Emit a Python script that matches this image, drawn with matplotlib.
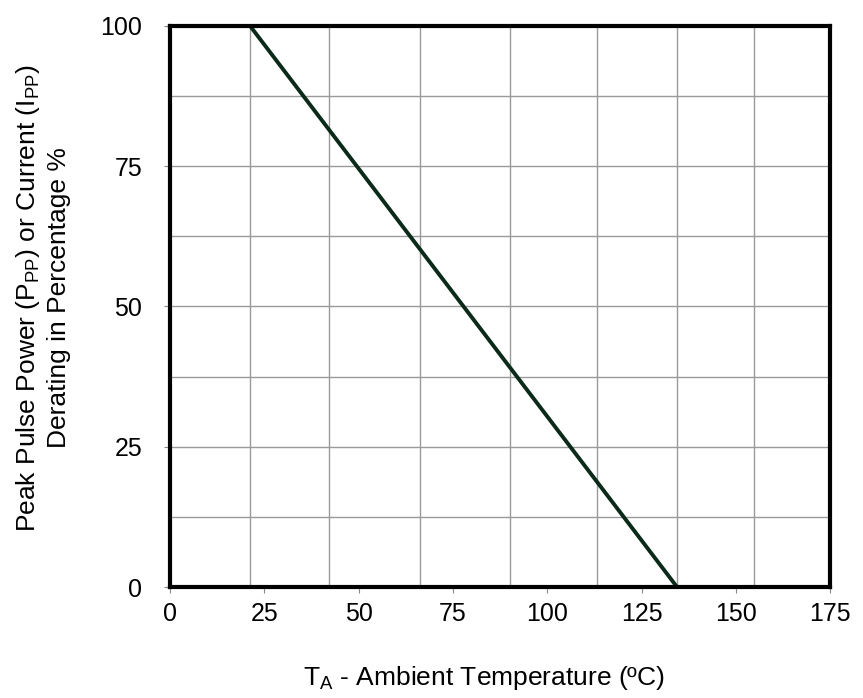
import matplotlib
matplotlib.use("Agg")
import matplotlib.pyplot as plt

plt.rcParams['font.family'] = ['Liberation Sans', 'DejaVu Sans']
plt.rcParams['mathtext.fontset'] = 'custom'
plt.rcParams['mathtext.rm'] = 'Liberation Sans'
plt.rcParams['mathtext.it'] = 'Liberation Sans'

# derating line: % vs ambient temperature
temp = [21.2, 134.4]
derating = [100, 0]

x_ticks = [0, 25, 50, 75, 100, 125, 150, 175]
y_ticks = [0, 25, 50, 75, 100]
# grid positions
x_grid = [21.2, 42.2, 66.3, 90.2, 113.2, 134.4, 154.8]
y_grid = [12.5, 25, 37.5, 50, 62.5, 75, 87.5]

fig = plt.figure(figsize=(8.63, 6.98), dpi=100)
ax = fig.add_axes([0.197, 0.159, 0.765, 0.804])

for g in x_grid:
    ax.axvline(g, color='#9a9a9a', lw=1.0, zorder=1)
for g in y_grid:
    ax.axhline(g, color='#9a9a9a', lw=1.0, zorder=1)

ax.plot(temp, derating, color='#0b2a1a', lw=2.8, zorder=3, solid_capstyle='butt')

ax.set_xlim(0, 175)
ax.set_ylim(0, 100)
ax.set_xticks(x_ticks)
ax.set_yticks(y_ticks)
ax.tick_params(axis='both', labelsize=18, length=4, width=0.8, color='#888888', pad=7)
ax.tick_params(axis='y', pad=16)

for s in ax.spines.values():
    s.set_linewidth(3)
    s.set_color('black')
    s.set_zorder(4)

ax.set_xlabel(r'T$_\mathregular{A}$ - Ambient Temperature (ºC)', fontsize=19)
ax.xaxis.set_label_coords(0.475, -0.163, transform=ax.transAxes)
ax.xaxis.label.set_va('center')
ax.set_ylabel('Peak Pulse Power (P$_\\mathregular{PP}$) or Current (I$_\\mathregular{PP}$)\nDerating in Percentage %',
              fontsize=19, linespacing=1.3)
ax.yaxis.set_label_coords(-0.193, 0.515, transform=ax.transAxes)
ax.yaxis.label.set_va('center')

fig.savefig('out.png', dpi=100, facecolor='white')
